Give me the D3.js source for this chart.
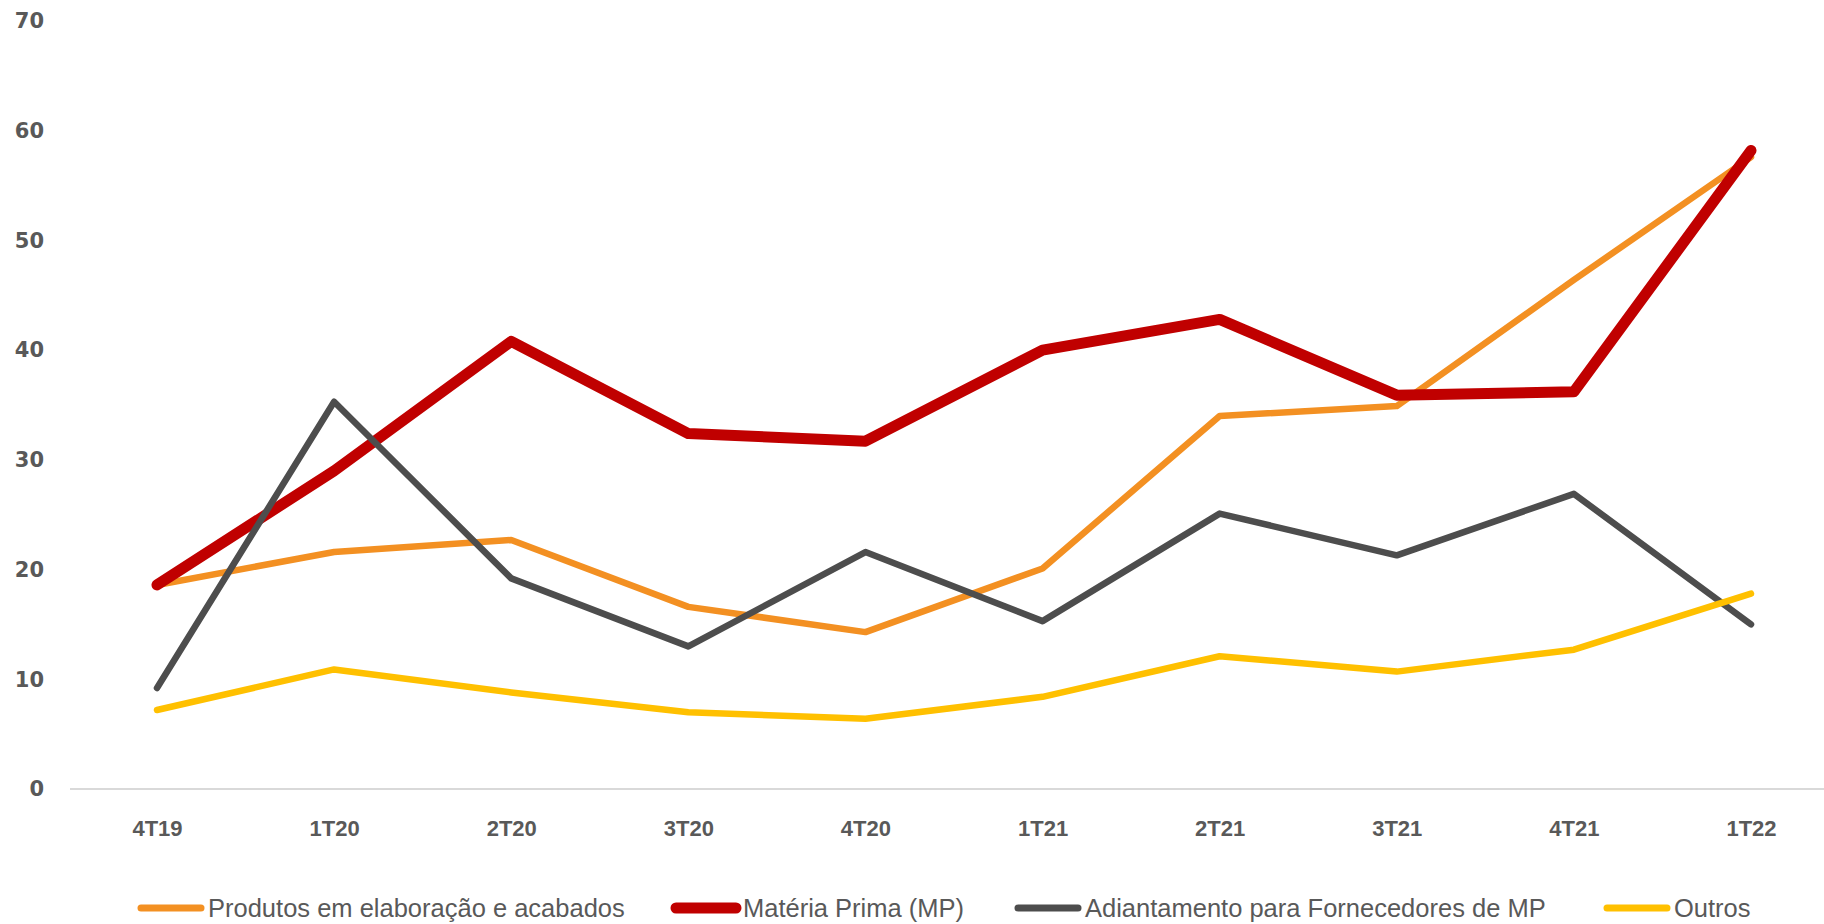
<!DOCTYPE html>
<html>
<head>
<meta charset="utf-8">
<script src="https://cdn.jsdelivr.net/npm/d3@7"></script>
<style>
html, body { margin: 0; padding: 0; background: #ffffff; }
svg { display: block; }
</style>
</head>
<body>
<svg id="chart" width="1824" height="924"></svg>
<script>
const categories = ["4T19", "1T20", "2T20", "3T20", "4T20", "1T21", "2T21", "3T21", "4T21", "1T22"];
const produtos = [18.6, 21.6, 22.7, 16.6, 14.3, 20.1, 34.0, 34.9, 46.4, 57.6];
const materiaPrima = [18.6, 29.0, 40.8, 32.4, 31.7, 40.0, 42.8, 35.9, 36.2, 58.2];
const adiantamento = [9.2, 35.3, 19.2, 13.0, 21.6, 15.3, 25.1, 21.3, 26.9, 15.0];
const outros = [7.2, 10.9, 8.8, 7.0, 6.4, 8.4, 12.1, 10.7, 12.7, 17.8];
const seriesNames = ["Produtos em elaboração e acabados", "Matéria Prima (MP)", "Adiantamento para Fornecedores de MP", "Outros"];
const yTicks = [0, 10, 20, 30, 40, 50, 60, 70];

const series = [
  { name: seriesNames[0], values: produtos, color: "#F39022", width: 6.5 },
  { name: seriesNames[1], values: materiaPrima, color: "#C00000", width: 11 },
  { name: seriesNames[2], values: adiantamento, color: "#4D4D4D", width: 6.5 },
  { name: seriesNames[3], values: outros, color: "#FFC000", width: 6.5 }
];

const svg = d3.select("#chart");
const x = d3.scalePoint().domain(categories).range([157, 1751]);
const y = d3.scaleLinear().domain([0, 70]).range([789, 21]);

// y axis labels
const yAxis = d3.axisLeft(y).tickValues(yTicks).tickSize(0).tickPadding(0);
const gy = svg.append("g").attr("transform", "translate(44,0)").call(yAxis);
gy.select(".domain").remove();
gy.selectAll("text")
  .attr("fill", "#595959")
  .style("font-family", "'DejaVu Sans', sans-serif")
  .style("font-weight", "bold")
  .style("font-size", "21px");

// x axis baseline
svg.append("line")
  .attr("x1", 70).attr("x2", 1824)
  .attr("y1", y(0)).attr("y2", y(0))
  .attr("stroke", "#D9D9D9").attr("stroke-width", 2);

const xAxis = d3.axisBottom(x).tickSize(0).tickPadding(0);
const gx = svg.append("g").attr("transform", "translate(0," + 828 + ")").call(xAxis);
gx.select(".domain").remove();
gx.selectAll("text")
  .attr("dy", "0.35em")
  .attr("fill", "#595959")
  .style("font-family", "'Liberation Sans Narrow', 'Liberation Sans', sans-serif")
  .style("font-weight", "bold")
  .style("font-size", "22px");

const line = d3.line()
  .x((d, i) => x(categories[i]))
  .y(d => y(d));

svg.append("g").selectAll("path")
  .data(series)
  .join("path")
  .attr("d", d => line(d.values))
  .attr("fill", "none")
  .attr("stroke", d => d.color)
  .attr("stroke-width", d => d.width)
  .attr("stroke-linejoin", "round")
  .attr("stroke-linecap", "round");

// legend
const legendX = [137, 672, 1014, 1603];
const leg = svg.append("g");
series.forEach((s, i) => {
  const g = leg.append("g").attr("transform", "translate(" + legendX[i] + ",908)");
  g.append("line")
    .attr("x1", 4).attr("x2", 64)
    .attr("y1", 0).attr("y2", 0)
    .attr("stroke", s.color)
    .attr("stroke-width", i === 1 ? 11 : 7)
    .attr("stroke-linecap", "round");
  g.append("text")
    .attr("x", 71).attr("y", 0)
    .attr("dy", "0.35em")
    .attr("fill", "#595959")
    .style("font-family", "'Liberation Sans Narrow', 'Liberation Sans', sans-serif")
    .style("font-size", "25.5px")
    .text(s.name);
});
</script>
</body>
</html>
